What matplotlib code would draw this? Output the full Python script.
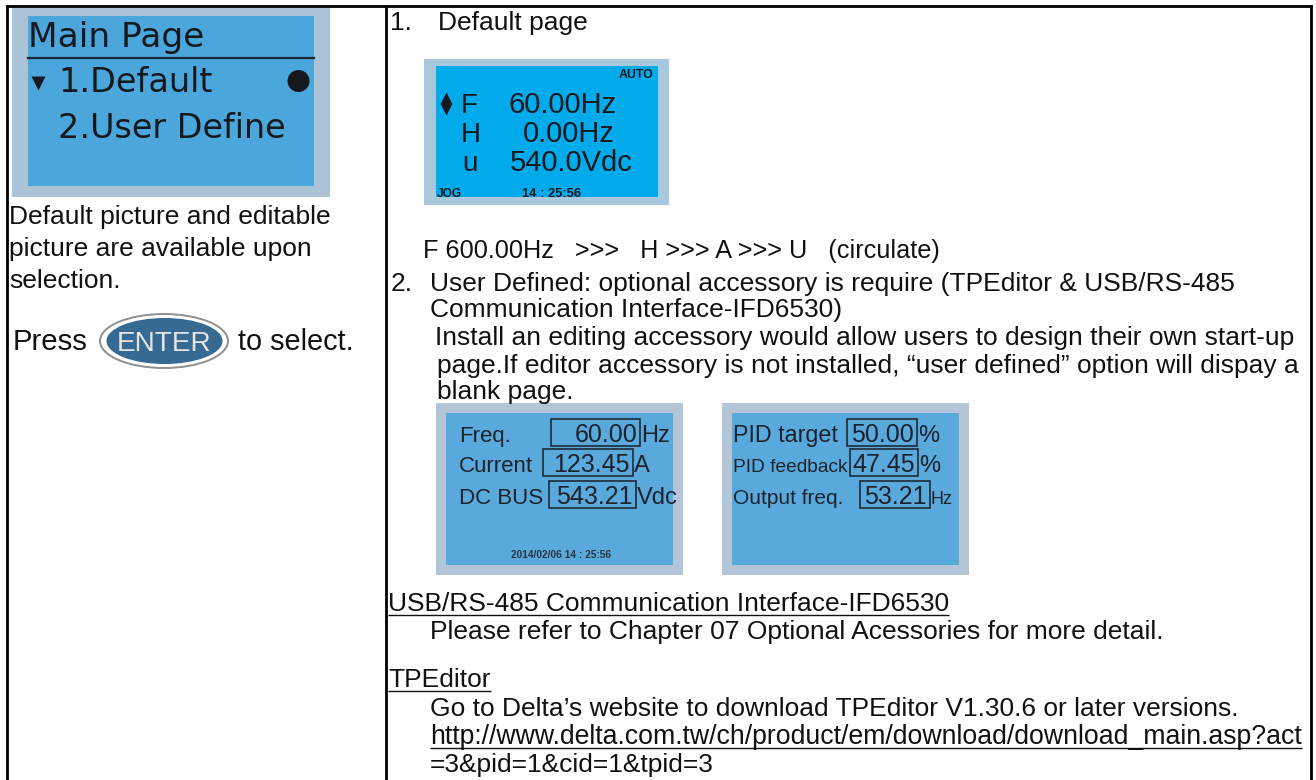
import matplotlib
matplotlib.use("Agg")
import matplotlib.pyplot as plt
from matplotlib.patches import Rectangle, Ellipse, Circle

# ---------------- data (text content) ----------------
left_lcd_title = "Main Page"
left_lcd_items = ["1.Default", "2.User Define"]
left_desc_lines = ["Default picture and editable", "picture are available upon", "selection."]
press_words = ["Press", "ENTER", "to select."]

default_title = ["1.", "Default page"]
default_codes = ["F", "H", "u"]
default_values = ["60.00Hz", "0.00Hz", "540.0Vdc"]
default_status = ["AUTO", "JOG", "14 : 25:56"]

cycle_line = "F 600.00Hz   >>>   H >>> A >>> U   (circulate)"

user_lines = ["User Defined: optional accessory is require (TPEditor & USB/RS-485",
              "Communication Interface-IFD6530)",
              "Install an editing accessory would allow users to design their own start-up",
              "page.If editor accessory is not installed, \u201cuser defined\u201d option will dispay a",
              "blank page."]

lcd1_labels = ["Freq.", "Current", "DC BUS"]
lcd1_values = ["60.00", "123.45", "543.21"]
lcd1_units = ["Hz", "A", "Vdc"]
lcd1_footer = "2014/02/06 14 : 25:56"

lcd2_labels = ["PID target", "PID feedback", "Output freq."]
lcd2_values = ["50.00", "47.45", "53.21"]
lcd2_units = ["%", "%", "Hz"]

usb_title = "USB/RS-485 Communication Interface-IFD6530"
usb_text = "Please refer to Chapter 07 Optional Acessories for more detail."
tpe_title = "TPEditor"
tpe_text = "Go to Delta\u2019s website to download TPEditor V1.30.6 or later versions."
tpe_url = ["http://www.delta.com.tw/ch/product/em/download/download_main.asp?act",
           "=3&pid=1&cid=1&tpid=3"]

# ---------------- figure ----------------
BODY = "Liberation Sans"
W, H = 1316, 780
fig = plt.figure(figsize=(W / 100, H / 100), dpi=100)
ax = fig.add_axes([0, 0, 1, 1])
ax.set_xlim(0, W)
ax.set_ylim(H, 0)
ax.axis("off")
R = fig.canvas.get_renderer()

TXT = "#111111"
LCDTXT = "#1b222b"


def put(x, y, s, size=19, width=None, family=BODY, ha="left", va="baseline",
        color=TXT, weight="normal", underline=False):
    t = ax.text(x, y, s, fontsize=size, family=family, ha=ha, va=va,
                color=color, fontweight=weight)
    if width is not None:
        bb = t.get_window_extent(renderer=R)
        t.set_fontsize(size * width / bb.width)
    if underline:
        bb = t.get_window_extent(renderer=R)
        ax.plot([bb.x0, bb.x1], [y + 3.5, y + 3.5], color=color, lw=1.0,
                solid_capstyle="butt")
    return t


# ---------------- table borders ----------------
blw = 2.0
ax.plot([7, 1311], [5.5, 5.5], color="black", lw=blw, solid_capstyle="projecting")
ax.plot([7, 7], [5.5, H], color="black", lw=blw)
ax.plot([1311, 1311], [5.5, H], color="black", lw=blw)
ax.plot([385.5, 385.5], [5.5, H], color="black", lw=blw)

# ---------------- left column LCD ----------------
ax.add_patch(Rectangle((12, 8), 318, 189, facecolor="#aac3d7", edgecolor="none"))
ax.add_patch(Rectangle((28, 16), 286, 170, facecolor="#4ba6dc", edgecolor="none"))
put(28, 47, left_lcd_title, size=22, width=176, family="DejaVu Sans", color="#15191e")
ax.plot([28, 314], [58, 58], color="#1a2733", lw=1.6)
ax.plot([38], [83], marker="v", ms=10, color="#15191e", mec="none")
put(58, 92, left_lcd_items[0], size=22, width=154, family="DejaVu Sans", color="#15191e")
put(58, 138, left_lcd_items[1], size=22, width=227, family="DejaVu Sans", color="#15191e")
ax.add_patch(Circle((298.5, 81), 11, facecolor="#15191e", edgecolor="none"))

# left description
for i, line in enumerate(left_desc_lines):
    put(9, 224 + 32 * i, line, size=19)

# Press ENTER to select.
put(13, 350, press_words[0], size=20, width=75)
ax.add_patch(Ellipse((164, 341), 128, 54, facecolor="white", edgecolor="#8f8f8f", lw=1.4))
ax.add_patch(Ellipse((164.5, 341), 116, 46, facecolor="#376a93", edgecolor="none"))
put(164.5, 351, press_words[1], size=20, width=95, ha="center", color="#e4e4e4")
put(238, 350, press_words[2], size=20, width=115)

# ---------------- right column ----------------
put(390, 30, default_title[0], size=19)
put(438, 30, default_title[1], size=19)

# default page LCD
ax.add_patch(Rectangle((424, 59), 245, 146, facecolor="#a8c8de", edgecolor="none"))
ax.add_patch(Rectangle((436, 66), 222, 131, facecolor="#00aaeb", edgecolor="none"))
put(653, 78, default_status[0], size=9, width=35, ha="right", weight="bold", color="#15191e")
ax.plot([446], [98], marker="^", ms=8, color="#15191e", mec="none")
ax.plot([446], [109], marker="v", ms=8, color="#15191e", mec="none")
code_x = [461, 461, 462]
val_x = [508, 523, 510]
base_y = [113, 142, 171]
for c, v, cx, vx, by in zip(default_codes, default_values, code_x, val_x, base_y):
    put(cx, by, c, size=20, color="#15191e")
    put(vx, by, v, size=21, color="#15191e")
put(437, 197, default_status[1], size=8.5, width=25, weight="bold", color="#15191e")
put(522, 197, default_status[2], size=9, width=59, weight="bold", color="#15191e")

# circulate line
put(423, 258, cycle_line, size=19, width=515)

# item 2
put(391, 291, "2.", size=19)
user_x = [430, 430, 435, 437, 437]
user_y = [291, 317, 345, 373, 399]
for s, x, y in zip(user_lines, user_x, user_y):
    put(x, y, s, size=19)

# bottom LCDs
T, LH, LW = 403, 172, 247


def lcd_frame(L):
    ax.add_patch(Rectangle((L, T), LW, LH, facecolor="#b2c6d7", edgecolor="none"))
    ax.add_patch(Rectangle((L + 10, T + 10), LW - 20, LH - 20, facecolor="#59a9dc",
                           edgecolor="none"))


rows_b = [T + 39, T + 69, T + 101]

L1 = 436
lcd_frame(L1)
box1 = [(551, 640), (543, 633), (549, 636)]
for lab, val, unit, b, (bx0, bx1) in zip(lcd1_labels, lcd1_values, lcd1_units,
                                         rows_b, box1):
    put(459, b, lab, size=16, color=LCDTXT)
    ax.add_patch(Rectangle((bx0, b - 23), bx1 - bx0, 27, facecolor="none",
                           edgecolor="#1f2a35", lw=1.2))
    put(bx1 - 3, b, val, size=18, ha="right", color=LCDTXT)
    put(bx1 + 1, b, unit, size=17, color=LCDTXT)
put(561, T + 155, lcd1_footer, size=8, width=101, ha="center", weight="bold", color="#2a3440")

L2 = 722
lcd_frame(L2)
lab2_w = [105, 115, 110]
box2 = [(847, 917), (850, 918), (860, 930)]
unit_sizes = [17, 17, 13]
for lab, lw_, val, unit, b, (bx0, bx1), us in zip(lcd2_labels, lab2_w, lcd2_values, lcd2_units,
                                                  rows_b, box2, unit_sizes):
    put(L2 + 11, b, lab, size=16, width=lw_, color=LCDTXT)
    ax.add_patch(Rectangle((bx0, b - 23), bx1 - bx0, 27, facecolor="none",
                           edgecolor="#1f2a35", lw=1.2))
    put(bx1 - 3, b, val, size=18, ha="right", color=LCDTXT)
    put(bx1 + 1, b, unit, size=us, color=LCDTXT)

# references
put(388, 611, usb_title, size=19, underline=True)
put(430, 639, usb_text, size=19)
put(388, 687, tpe_title, size=19, underline=True)
put(430, 716, tpe_text, size=19)
put(430, 744, tpe_url[0], size=19.15, underline=True)
put(430, 772, tpe_url[1], size=19)

fig.savefig("out.png", dpi=100)
